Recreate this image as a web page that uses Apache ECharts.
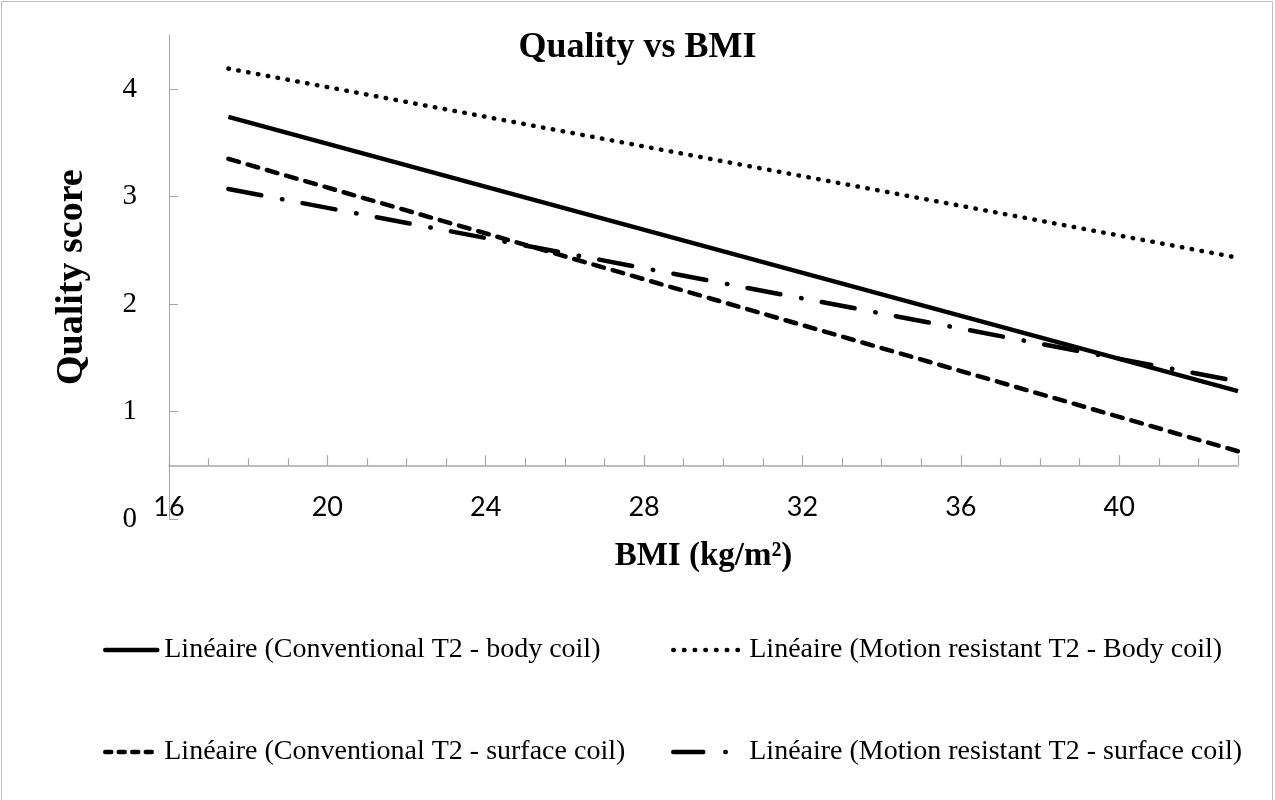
<!DOCTYPE html>
<html>
<head>
<meta charset="utf-8">
<script src="https://cdn.jsdelivr.net/npm/echarts@6/dist/echarts.min.js"></script>
<style>
html,body{margin:0;padding:0;background:#fff;}
#chart{width:1275px;height:800px;}
</style>
</head>
<body>
<div id="chart"></div>
<script>
// ---- data ----
var bmiRange = [17.5, 43];                 // x extent of the linear trendlines
var convBody = [3.74, 1.19];               // Linéaire (Conventional T2 - body coil)
var motionBody = [4.19, 2.43];             // Linéaire (Motion resistant T2 - Body coil)
var convSurface = [3.35, 0.63];            // Linéaire (Conventional T2 - surface coil)
var motionSurface = [3.07, 1.28];          // Linéaire (Motion resistant T2 - surface coil)
var seriesNames = [
  'Linéaire (Conventional T2 - body coil)',
  'Linéaire (Motion resistant T2 - Body coil)',
  'Linéaire (Conventional T2 - surface coil)',
  'Linéaire (Motion resistant T2 - surface coil)'
];
var xTickLabels = [16, 20, 24, 28, 32, 36, 40];
var yTickLabels = [0, 1, 2, 3, 4];

// ---- layout / style ----
var X_MIN = 16, X_MAX = 43, Y_MIN = 0, Y_MAX = 4.5, X_CROSS = 0.5;
var GRID_TOP = 35.25, GRID_BOTTOM = 281;
var gridH = 800 - GRID_TOP - GRID_BOTTOM;
var xAxisOffset = -(X_CROSS - Y_MIN) / (Y_MAX - Y_MIN) * gridH;

function pairs(ys) { return bmiRange.map(function (x, i) { return [x, ys[i]]; }); }

var serif = 'Liberation Serif';
var axisGray = '#a6a6a6';

var styles = [
  {type: 'solid', cap: 'butt'},
  {type: [0.5, 9.5], cap: 'round'},
  {type: [11, 9], cap: 'round'},
  {type: [33.5, 21, 0.5, 20.5], cap: 'round'}
];
var legendStyles = [
  {type: 'solid', cap: 'round'},
  {type: [0.5, 10.2], cap: 'round'},
  {type: [6, 7.5], cap: 'round'},
  {type: [30, 22, 0.5, 20], cap: 'round'}
];

var chart = echarts.init(document.getElementById('chart'), null, {renderer: 'canvas'});

function mkSeries(i, ys) {
  return {
    name: seriesNames[i], type: 'line', data: pairs(ys), symbol: 'none', silent: true,
    lineStyle: Object.assign({color: '#000', width: 4.5}, styles[i]),
    itemStyle: {color: '#000'}, z: 3
  };
}

var legendPos = [
  {left: 103, top: 635, w: 52},
  {left: 671, top: 635, w: 67},
  {left: 103, top: 737, w: 52},
  {left: 671, top: 737, w: 67}
];
var legends = legendPos.map(function (l, i) {
  return {
    data: [seriesNames[i]], left: l.left, top: l.top, itemWidth: l.w, itemHeight: 14,
    padding: 0,
    itemStyle: {opacity: 0},
    lineStyle: Object.assign({color: '#000', width: 4.5}, legendStyles[i]),
    textStyle: {fontFamily: serif, fontSize: 28, color: '#000', lineHeight: 30, padding: [0, 0, 0, i % 2 ? 4 : 2]},
    selectedMode: false
  };
});

chart.setOption({
  backgroundColor: '#fff',
  animation: false,
  title: {
    text: 'Quality vs BMI', left: 'center', top: 25,
    textStyle: {fontFamily: serif, fontSize: 36, fontWeight: 'bold', color: '#000'}
  },
  graphic: [{
    type: 'rect', shape: {x: 1.5, y: 1.5, width: 1271, height: 830},
    style: {fill: 'none', stroke: '#c0c0c0', lineWidth: 1}, silent: true, z: -1
  }],
  legend: legends,
  grid: {left: 169, right: 37, top: GRID_TOP, bottom: GRID_BOTTOM, containLabel: false},
  xAxis: {
    type: 'value', min: X_MIN, max: X_MAX, interval: 4,
    offset: xAxisOffset,
    name: 'BMI (kg/m²)', nameLocation: 'middle', nameGap: 75,
    nameTextStyle: {fontFamily: serif, fontSize: 33, fontWeight: 'bold', color: '#000'},
    axisLine: {show: true, onZero: false, lineStyle: {color: axisGray, width: 1.5}},
    axisTick: {show: true, inside: true, length: 10, lineStyle: {color: axisGray, width: 1.2}},
    minorTick: {show: true, splitNumber: 4, length: 7, lineStyle: {color: axisGray, width: 1.2}},
    axisLabel: {customValues: xTickLabels, fontFamily: 'Lato', fontSize: 27, color: '#000', margin: 29},
    splitLine: {show: false}
  },
  yAxis: {
    type: 'value', min: Y_MIN, max: Y_MAX, interval: 1,
    name: 'Quality score', nameLocation: 'middle', nameGap: 78, nameRotate: 90,
    nameTextStyle: {fontFamily: serif, fontSize: 38, fontWeight: 'bold', color: '#000'},
    axisLine: {show: true, onZero: false, lineStyle: {color: axisGray, width: 1}},
    axisTick: {show: true, inside: true, length: 9, customValues: yTickLabels, lineStyle: {color: axisGray, width: 1}},
    axisLabel: {customValues: yTickLabels, fontFamily: serif, fontSize: 29, color: '#000', margin: 32},
    splitLine: {show: false}
  },
  series: [
    mkSeries(0, convBody),
    mkSeries(1, motionBody),
    mkSeries(2, convSurface),
    mkSeries(3, motionSurface)
  ]
});
</script>
</body>
</html>
